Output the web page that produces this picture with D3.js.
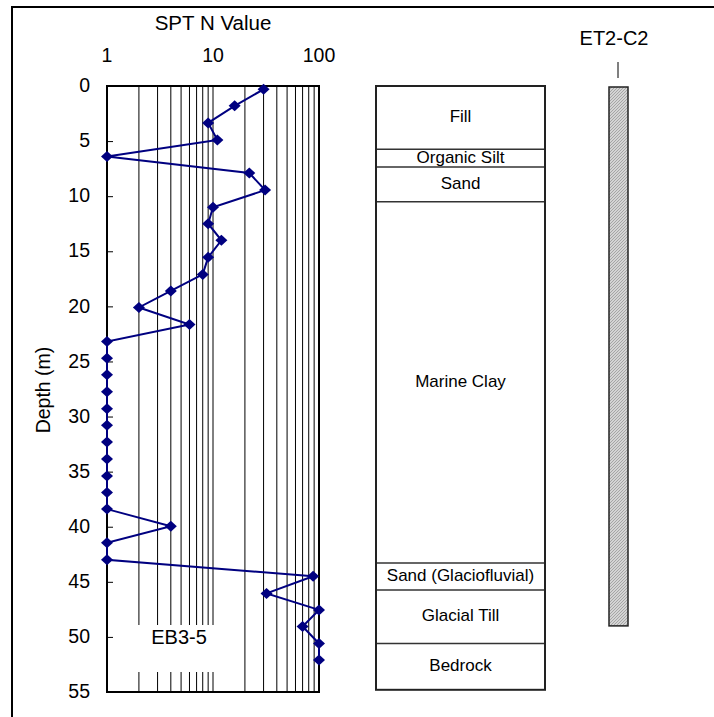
<!DOCTYPE html>
<html>
<head>
<meta charset="utf-8">
<script src="https://cdn.jsdelivr.net/npm/d3@7"></script>
<style>
  body { margin: 0; background: #fff; }
  text { font-family: "Liberation Sans", Arial, sans-serif; fill: #000; }
</style>
</head>
<body>
<div id="chart"></div>
<script>
let sptDepth = [0.3, 1.8, 3.35, 4.9, 6.4, 7.9, 9.45, 11.0, 12.5, 14.0, 15.55, 17.1, 18.6, 20.1, 21.65,
  23.2, 24.7, 26.2, 27.75, 29.3, 30.8, 32.3, 33.85, 35.4, 36.9, 38.4, 39.95, 41.45, 43.0,
  44.5, 46.05, 47.55, 49.05, 50.6, 52.1];
let sptN = [30, 16, 9, 11, 1, 22, 31, 10, 9, 12, 9, 8, 4, 2, 6,
  1, 1, 1, 1, 1, 1, 1, 1, 1, 1, 1, 4, 1, 1,
  88, 32, 100, 70, 100, 100];

let depthTicks = [0, 5, 10, 15, 20, 25, 30, 35, 40, 45, 50, 55];
let nTicks = [1, 10, 100];
let nGrid = [2, 3, 4, 5, 6, 7, 8, 9, 10, 20, 30, 40, 50, 60, 70, 80, 90];

// soil layers: top, bottom depth
let layerNames = ['Fill', 'Organic Silt', 'Sand', 'Marine Clay', 'Sand (Glaciofluvial)', 'Glacial Till', 'Bedrock'];
let layerTop = [0, 5.75, 7.35, 10.5, 43.3, 45.75, 50.6];
let layerBottom = [5.75, 7.35, 10.5, 43.3, 45.75, 50.6, 54.8];

let casingName = 'ET2-C2';
let casingBottom = 49.0;
let boringName = 'EB3-5';

let width = 714, height = 717;
let svg = d3.select('#chart').append('svg').attr('width', width).attr('height', height);

// outer frame
svg.append('rect').attr('x', 12).attr('y', 7).attr('width', 760).attr('height', 760)
  .attr('fill', 'none').attr('stroke', '#000').attr('stroke-width', 2);

let x = d3.scaleLog().domain([1, 100]).range([107, 319]);
let y = d3.scaleLinear().domain([0, 55]).range([86, 692]);

// grid lines
svg.append('g').selectAll('line').data(nGrid).enter().append('line')
  .attr('x1', d => x(d)).attr('x2', d => x(d))
  .attr('y1', y(0)).attr('y2', y(55))
  .attr('stroke', '#000').attr('stroke-width', 1);

// label box for boring name (hides minor grid)
svg.append('rect').attr('x', x(1) + 1).attr('y', 625).attr('width', x(10) - x(1) + 3).attr('height', 47)
  .attr('fill', '#fff');
svg.append('text').attr('x', 179).attr('y', 639).attr('text-anchor', 'middle')
  .attr('dominant-baseline', 'middle').style('font-size', '20px').text(boringName);

// plot border
svg.append('rect').attr('x', x(1)).attr('y', y(0)).attr('width', x(100) - x(1)).attr('height', y(55) - y(0))
  .attr('fill', 'none').attr('stroke', '#000').attr('stroke-width', 2);

// depth axis
let yAxis = d3.axisRight(y).tickValues(depthTicks).tickSize(6).tickFormat('');
svg.append('g').attr('transform', 'translate(' + x(1) + ',0)').call(yAxis)
  .call(g => g.select('.domain').remove())
  .selectAll('line').attr('stroke', '#000').attr('stroke-width', 1);
svg.append('g').selectAll('text').data(depthTicks).enter().append('text')
  .attr('x', 90).attr('y', d => y(d) + 1).attr('text-anchor', 'end')
  .attr('dominant-baseline', 'middle').style('font-size', '19.5px').text(d => d);

svg.append('text').attr('transform', 'translate(45,390) rotate(-90)')
  .attr('text-anchor', 'middle').attr('dominant-baseline', 'middle')
  .style('font-size', '19.5px').text('Depth (m)');

// top axis labels
svg.append('g').selectAll('text').data(nTicks).enter().append('text')
  .attr('x', d => x(d)).attr('y', 57).attr('text-anchor', 'middle')
  .attr('dominant-baseline', 'middle').style('font-size', '19.5px').text(d => d);
svg.append('text').attr('x', 213).attr('y', 25).attr('text-anchor', 'middle')
  .attr('dominant-baseline', 'middle').style('font-size', '20.5px').text('SPT N Value');

// SPT line + diamonds
let pts = sptDepth.map((d, i) => [sptN[i], d]);
let line = d3.line().x(d => x(d[0])).y(d => y(d[1]));
svg.append('path').datum(pts).attr('d', line).attr('fill', 'none')
  .attr('stroke', '#000080').attr('stroke-width', 2);
svg.append('g').selectAll('path').data(pts).enter().append('path')
  .attr('d', 'M0,-5.5L6,0L0,5.5L-6,0Z')
  .attr('transform', d => 'translate(' + x(d[0]) + ',' + y(d[1]) + ')')
  .attr('fill', '#000080');

// soil column
let colX = 376, colW = 169;
let soil = svg.append('g');
soil.selectAll('line').data(layerTop.slice(1)).enter().append('line')
  .attr('x1', colX).attr('x2', colX + colW)
  .attr('y1', d => y(d)).attr('y2', d => y(d))
  .attr('stroke', '#333').attr('stroke-width', 1.5);
soil.append('rect').attr('x', colX).attr('y', y(layerTop[0]))
  .attr('width', colW).attr('height', y(layerBottom[layerBottom.length - 1]) - y(layerTop[0]))
  .attr('fill', 'none').attr('stroke', '#222').attr('stroke-width', 2);
soil.selectAll('text').data(layerNames).enter().append('text')
  .attr('x', colX + colW / 2)
  .attr('y', (d, i) => (y(layerTop[i]) + y(layerBottom[i])) / 2)
  .attr('text-anchor', 'middle').attr('dominant-baseline', 'middle')
  .style('font-size', '17px').text(d => d);

// casing bar with hatch
let defs = svg.append('defs');
let pat = defs.append('pattern').attr('id', 'hatch').attr('patternUnits', 'userSpaceOnUse')
  .attr('width', 3).attr('height', 3);
pat.append('rect').attr('width', 3).attr('height', 3).attr('fill', '#d4d4d4');
pat.append('path').attr('d', 'M0,3 L3,0').attr('stroke', '#999').attr('stroke-width', 0.8);

svg.append('rect').attr('x', 609).attr('y', y(0) + 1).attr('width', 19).attr('height', y(casingBottom) - y(0) - 1)
  .attr('fill', 'url(#hatch)').attr('stroke', '#222').attr('stroke-width', 1.5);
svg.append('line').attr('x1', 618).attr('x2', 618).attr('y1', 62).attr('y2', 78)
  .attr('stroke', '#000').attr('stroke-width', 1);
svg.append('text').attr('x', 614).attr('y', 40).attr('text-anchor', 'middle')
  .attr('dominant-baseline', 'middle').style('font-size', '20px').text(casingName);
</script>
</body>
</html>
